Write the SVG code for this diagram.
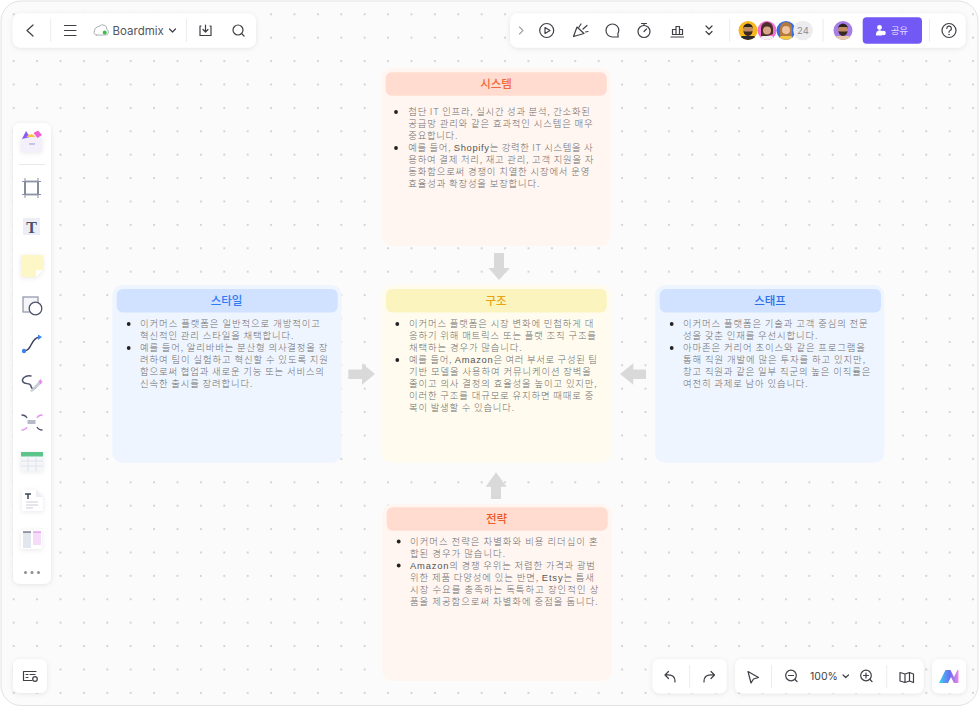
<svg xmlns="http://www.w3.org/2000/svg" width="979" height="707" viewBox="0 0 979 707">
<style>
text{font-family:"Inter","Noto Sans CJK KR","Noto Sans",sans-serif}
.b{font-size:9.4px;font-weight:300;fill:#6e6e6e;font-family:"Noto Sans CJK KR","Noto Sans",sans-serif}
.l{fill:#555;font-weight:400;font-family:"Liberation Sans","Noto Sans",sans-serif}
.t{font-size:11.5px;font-weight:500;text-anchor:middle;font-family:"Noto Sans CJK KR","Noto Sans",sans-serif}
.bar{fill:#fff;filter:url(#sh)}
.sep{stroke:#ececec;stroke-width:1}
.ic{fill:none;stroke:#3f3f46;stroke-width:1.2;stroke-linecap:round;stroke-linejoin:round}
.nv{fill:none;stroke:#4b5168;stroke-width:1.4;stroke-linecap:round;stroke-linejoin:round}
.arrow{fill:#d9d9d9}
</style>
<defs>
<pattern id="dots" x="12.700" y="13.300" width="23.400" height="23.400" patternUnits="userSpaceOnUse"><circle cx="1" cy="1" r="1" fill="#c9c9c9"/></pattern>
<filter id="sh" x="-20%" y="-30%" width="140%" height="170%"><feDropShadow dx="0" dy="1" stdDeviation="2.500" flood-color="#000" flood-opacity="0.09"/></filter>
<clipPath id="a1"><circle cx="748" cy="30.500" r="9.500"/></clipPath>
<clipPath id="a2"><circle cx="767" cy="30.500" r="9.500"/></clipPath>
<clipPath id="a3"><circle cx="786" cy="30.500" r="9.500"/></clipPath>
<clipPath id="a4"><circle cx="843" cy="30.500" r="9.500"/></clipPath>
<linearGradient id="logo" x1="0" x2="1"><stop offset="0" stop-color="#35d6ee"/><stop offset="0.550" stop-color="#6b6cf6"/><stop offset="1" stop-color="#f08ae0"/></linearGradient>
</defs>

<g id="canvas">
<rect width="979" height="707" fill="#fff"/>
<rect x="1" y="1" width="977" height="704.500" rx="20" fill="#fbfbfb" stroke="#e3e3e3"/>
<rect x="3" y="3" width="973" height="700" rx="18" fill="url(#dots)"/>
</g>

<g id="connectors">
<path class="arrow" d="M494 253H504V268H510L499 280L488.500 268H494Z"/>
<path class="arrow" d="M348.300 369.500H362V363.300L375 374L362 384.700V379H348.300Z"/>
<path class="arrow" d="M646 369.500H633.300V363.300L620 374L633.300 384.700V379H646Z"/>
<path class="arrow" d="M491 499V486.700H485.700L496 472.300L506.700 486.700H501V499Z"/>
</g>

<g id="node-system">
<rect x="381.700" y="68" width="229" height="178" rx="10" fill="#fff5f1"/>
<rect x="385.700" y="72.300" width="221" height="23.400" rx="6" fill="#ffdccf"/>
<text class="t" x="496" y="88" fill="#f0693c">시스템</text>
<circle cx="396" cy="112" r="1.900" fill="#222"/><circle cx="396" cy="148" r="1.900" fill="#222"/>
<text class="b" x="408.300" y="115" textLength="181.700">첨단 IT 인프라, 실시간 성과 분석, 간소화된</text>
<text class="b" x="408.300" y="127" textLength="184.400">공급망 관리와 같은 효과적인 시스템은 매우</text>
<text class="b" x="408.300" y="139" textLength="49">중요합니다.</text>
<text class="b" x="408.300" y="151" textLength="184.400">예를 들어, <tspan class="l">Shopify</tspan>는 강력한 IT 시스템을 사</text>
<text class="b" x="408.300" y="163" textLength="185">용하여 결제 처리, 재고 관리, 고객 지원을 자</text>
<text class="b" x="408.300" y="175" textLength="181">동화함으로써 경쟁이 치열한 시장에서 운영</text>
<text class="b" x="408.300" y="187" textLength="131">효율성과 확장성을 보장합니다.</text>
</g>

<g id="node-style">
<rect x="112.300" y="285" width="229.400" height="177.700" rx="10" fill="#eff5ff"/>
<rect x="116.700" y="289" width="221" height="23.400" rx="6" fill="#d0e2ff"/>
<text class="t" x="226.500" y="304.500" fill="#2f7cf6">스타일</text>
<circle cx="128.700" cy="324" r="1.900" fill="#222"/><circle cx="128.700" cy="348" r="1.900" fill="#222"/>
<text class="b" x="140" y="326.800" textLength="180">이커머스 플랫폼은 일반적으로 개방적이고</text>
<text class="b" x="140" y="338.800" textLength="153.300">혁신적인 관리 스타일을 채택합니다.</text>
<text class="b" x="140" y="351" textLength="187.300">예를 들어, 알리바바는 분산형 의사결정을 장</text>
<text class="b" x="140" y="363" textLength="188">려하여 팀이 실험하고 혁신할 수 있도록 지원</text>
<text class="b" x="140" y="375" textLength="184">함으로써 협업과 새로운 기능 또는 서비스의</text>
<text class="b" x="140" y="387" textLength="112.300">신속한 출시를 장려합니다.</text>
</g>

<g id="node-structure">
<rect x="381.700" y="285" width="229.300" height="177.700" rx="10" fill="#fffcef"/>
<rect x="386" y="289" width="220.700" height="23.400" rx="6" fill="#fbf4bf"/>
<text class="t" x="496" y="304.500" fill="#e8a30f">구조</text>
<circle cx="397.300" cy="324" r="1.900" fill="#222"/><circle cx="397.300" cy="360" r="1.900" fill="#222"/>
<text class="b" x="409" y="326.800" textLength="184.300">이커머스 플랫폼은 시장 변화에 민첩하게 대</text>
<text class="b" x="409" y="338.800" textLength="187">응하기 위해 매트릭스 또는 플랫 조직 구조를</text>
<text class="b" x="409" y="351" textLength="112.700">채택하는 경우가 많습니다.</text>
<text class="b" x="409" y="363" textLength="188">예를 들어, <tspan class="l">Amazon</tspan>은 여러 부서로 구성된 팀</text>
<text class="b" x="409" y="375" textLength="182">기반 모델을 사용하여 커뮤니케이션 장벽을</text>
<text class="b" x="409" y="387" textLength="187.700">줄이고 의사 결정의 효율성을 높이고 있지만,</text>
<text class="b" x="409" y="399" textLength="184.300">이러한 구조를 대규모로 유지하면 때때로 중</text>
<text class="b" x="409" y="411" textLength="105">복이 발생할 수 있습니다.</text>
</g>

<g id="node-staff">
<rect x="655" y="285" width="229.300" height="177.700" rx="10" fill="#eff5ff"/>
<rect x="659.700" y="289" width="221.300" height="23.400" rx="6" fill="#d0e2ff"/>
<text class="t" x="770" y="304.500" fill="#2f6fe8">스태프</text>
<circle cx="671.700" cy="324" r="1.900" fill="#222"/><circle cx="671.700" cy="348" r="1.900" fill="#222"/>
<text class="b" x="683" y="326.800" textLength="184.700">이커머스 플랫폼은 기술과 고객 중심의 전문</text>
<text class="b" x="683" y="338.800" textLength="134.300">성을 갖춘 인재를 우선시합니다.</text>
<text class="b" x="683" y="351" textLength="182">아마존은 커리어 초이스와 같은 프로그램을</text>
<text class="b" x="683" y="363" textLength="182">통해 직원 개발에 많은 투자를 하고 있지만,</text>
<text class="b" x="683" y="375" textLength="187.300">창고 직원과 같은 일부 직군의 높은 이직률은</text>
<text class="b" x="683" y="387" textLength="124.700">여전히 과제로 남아 있습니다.</text>
</g>

<g id="node-strategy">
<rect x="382.300" y="504.300" width="229.400" height="176.700" rx="10" fill="#fff5f1"/>
<rect x="386.700" y="507.300" width="221" height="23.400" rx="6" fill="#ffdccf"/>
<text class="t" x="496.500" y="523" fill="#ef5a2a">전략</text>
<circle cx="398.700" cy="541.500" r="1.900" fill="#222"/><circle cx="398.700" cy="565.500" r="1.900" fill="#222"/>
<text class="b" x="410" y="544.800" textLength="187.700">이커머스 전략은 차별화와 비용 리더십이 혼</text>
<text class="b" x="410" y="556.800" textLength="95">합된 경우가 많습니다.</text>
<text class="b" x="410" y="569" textLength="185"><tspan class="l">Amazon</tspan>의 경쟁 우위는 저렴한 가격과 광범</text>
<text class="b" x="410" y="581" textLength="184">위한 제품 다양성에 있는 반면, <tspan class="l">Etsy</tspan>는 틈새</text>
<text class="b" x="410" y="593" textLength="188.300">시장 수요를 충족하는 독특하고 장인적인 상</text>
<text class="b" x="410" y="605" textLength="187.700">품을 제공함으로써 차별화에 중점을 둡니다.</text>
</g>

<g id="toolbar-top-left">
<rect class="bar" x="12.700" y="13.300" width="243.300" height="34.400" rx="8"/>
<path class="sep" d="M50.700 19V42M186.500 19V42"/>
<path class="ic" d="M33 25L27 30.500L33 36"/>
<path class="ic" d="M64.500 25.500H76M64.500 30.500H76M64.500 35.500H76"/>
<path d="M96 35H106a3 3 0 0 0 1-5.500a4.500 4.500 0 0 0-8-3a4.500 4.500 0 0 0-4.500 4.500a2.500 2.500 0 0 0 2 4z" fill="none" stroke="#a9adb5" stroke-width="1"/>
<circle cx="104.700" cy="32.500" r="2" fill="#35c23f"/>
<text x="112.500" y="34.800" font-size="11.500" fill="#55555c">Boardmix</text>
<path class="ic" d="M169.500 29L172.500 32L175.500 29" stroke-width="1"/>
<path class="ic" d="M201 26H200V35.500H211V26H210M205.500 25V32M203 29.500L205.500 32L208 29.500"/>
<circle class="ic" cx="238" cy="30" r="5"/><path class="ic" d="M241.700 33.700L244 36"/>
</g>

<g id="toolbar-top-right">
<rect class="bar" x="510" y="13.300" width="455.700" height="34.400" rx="8"/>
<path class="sep" d="M729.700 19V42M823 19V42M929.500 19V42"/>
<path d="M519.500 27L523 30.500L519.500 34" fill="none" stroke="#9ca0a8" stroke-width="1.100" stroke-linecap="round"/>
<circle class="ic" cx="546.700" cy="30.500" r="7"/><path class="ic" d="M545 27.500L550 30.500L545 33.500Z"/>
<path class="ic" d="M573.500 36.500L577 27L584 33.500ZM579 27L581 24M583 29L587 25.500M585.500 32L588 31.500"/>
<path class="ic" d="M612.500 24a6.300 6.300 0 0 1 6.300 6.300c0 1.200-.4 2.400-1 3.400l.4 3.300h-5.700a6.500 6.500 0 0 1 0-13z"/>
<circle class="ic" cx="644" cy="31.500" r="6"/><path class="ic" d="M641.500 23.500H646.500M644 25.500V23.500M644 31.500L646.500 29"/>
<path class="ic" d="M671 37H683.500M672.500 34.500V29.500H676V34.500ZM676 34.500V26.500H679.500V34.500ZM679.500 34.500V29.500H682.500V34.500Z"/>
<path class="ic" d="M706 26L709 29L712 26M706 31.500L709 34.500L712 31.500"/>
<g clip-path="url(#a1)"><rect x="738" y="20" width="20" height="21" fill="#f8b71c"/><rect x="740" y="36" width="16" height="6" rx="3" fill="#2a2a30"/><circle cx="748" cy="30" r="4.800" fill="#c08a62"/><path d="M743 29a5 5.500 0 0 1 10 0l-1-2h-8z" fill="#2a2320"/><path d="M743.500 31a4.500 5 0 0 0 9 0l-1.500 .5h-6z" fill="#3a2a22"/></g>
<g clip-path="url(#a2)"><rect x="757" y="20" width="20" height="21" fill="#f36fd0"/><path d="M761 38V28a6 6 0 0 1 12 0v6z" fill="#4a302a"/><rect x="760" y="36" width="14" height="6" rx="3" fill="#f0f0f0"/><circle cx="767" cy="30.500" r="4" fill="#d9a585"/></g>
<g clip-path="url(#a3)"><rect x="776" y="20" width="20" height="21" fill="#2f6fe8"/><path d="M780 36V28a6 6 0 0 1 12 0v8z" fill="#b5793f"/><rect x="779" y="36" width="14" height="6" rx="3" fill="#f3c644"/><circle cx="786" cy="30" r="4" fill="#eec3a0"/></g>
<circle cx="803" cy="30.500" r="9.800" fill="#ececee"/>
<text x="803" y="34" font-size="9.500" fill="#8b8b90" text-anchor="middle">24</text>
<g clip-path="url(#a4)"><rect x="833" y="20" width="20" height="21" fill="#a77ee8"/><rect x="835" y="36" width="16" height="6" rx="3" fill="#e8c9a8"/><circle cx="843" cy="30" r="4.800" fill="#c08a62"/><path d="M838 29a5 5.500 0 0 1 10 0l-1-2h-8z" fill="#2a2320"/><path d="M838.500 31a4.500 5 0 0 0 9 0l-1.500 .5h-6z" fill="#3a2a22"/></g>
<rect x="862.700" y="17.300" width="59.300" height="26.400" rx="4" fill="#7258f5"/>
<circle cx="879.500" cy="27.500" r="2.400" fill="#fff"/><path d="M876 35.500a4 4 0 0 1 6-4.500v4.500z" fill="#fff"/><circle cx="883.500" cy="33" r="2.300" fill="#fff"/>
<text x="890.700" y="34.300" font-size="9.500" fill="#e4dfff" textLength="17.300" style="font-family:'Noto Sans CJK KR',sans-serif">공유</text>
<circle class="ic" cx="949" cy="30.500" r="7"/><path class="ic" d="M946.800 28.500a2.300 2.300 0 1 1 3.300 2c-.8.400-1.100.8-1.100 1.700"/><circle cx="949" cy="34.500" r=".8" fill="#3f3f46"/>
</g>

<g id="toolbar-left">
<rect class="bar" x="13" y="123" width="38" height="461" rx="7"/>
<path d="M19 164.500H45" stroke="#e8e8ea"/>
<rect x="21" y="137" width="21" height="15" rx="1.500" fill="#f3effb" filter="url(#sh)"/>
<path d="M22 139L26 131L30 137Z" fill="#8b5cf6"/><path d="M26.500 137a5 5 0 0 1 9 0z" fill="#f6c445"/><path d="M33.500 133L38 130.500L42 135L37.500 138Z" fill="#f35fd0"/>
<rect x="29" y="143" width="6" height="2" fill="#c9c5e8"/>
<rect class="nv" x="25" y="181.500" width="13" height="13"/>
<path d="M22 181.500H41M22 194.500H41M25 178V198M38 178V198" stroke="#8d93a6" fill="none"/>
<rect x="22.500" y="217.500" width="18" height="18" fill="#eceef5" stroke="#fff"/>
<text x="31.500" y="232.500" font-size="16" font-weight="700" fill="#4b5168" text-anchor="middle" style="font-family:'Liberation Serif',serif">T</text>
<path d="M21 255H43V270L36 277H21Z" fill="#fdf6c6" filter="url(#sh)"/><path d="M36 277V270H43Z" fill="#fff"/>
<rect x="23" y="297" width="15" height="15" fill="#f5f5fa" stroke="#8d93a6" stroke-width="1.200"/>
<circle cx="35.500" cy="308.500" r="6.300" fill="#fff" stroke="#4b5168" stroke-width="1.300"/>
<path d="M24 351C32 351 30 339 39 337" fill="none" stroke="#3e4459" stroke-width="1.500"/>
<circle cx="24" cy="351" r="2.200" fill="#3f83f0"/><path d="M38 334.500L42 337L38 340Z" fill="#3f83f0"/>
<path class="nv" d="M31 376C25 375 21 379 23 382C25 385 30 382 31 386C31 389 35 390 37 386"/>
<path d="M30 391L40 380L42 383L32 392Z" fill="#c9cdd8"/><path d="M38.500 381.500L40.500 379L42.500 382L40.500 384Z" fill="#e58cf0"/>
<rect x="27.500" y="420" width="8" height="4" fill="#b6bbc8"/>
<path d="M42.500 415C39 415 38 416 37 418M21.500 430C25 430 26 429 27 427" fill="none" stroke="#e58cf0" stroke-width="1.300"/>
<path d="M21.500 415C25 415 26 416 27 418M42.500 430C39 430 38 429 37 427" fill="none" stroke="#4b5168" stroke-width="1.300"/>
<rect x="21" y="452" width="22" height="19" rx="1" fill="#f5f6fa" filter="url(#sh)"/>
<rect x="21" y="452" width="22" height="4.500" fill="#5cc58c"/>
<path d="M21 461H43M21 466H43M28 456.500V471M36 456.500V471" stroke="#dfe2ea"/>
<path d="M22 490H36L43 497V511H22Z" fill="#fff" filter="url(#sh)"/>
<path d="M36 490V497H43Z" fill="#eceef3"/>
<path d="M25 494H31M28 494V499" stroke="#3e4459" stroke-width="1.500" fill="none"/>
<path d="M26 502H38M26 505H38M26 508H33" stroke="#c9cdd8"/>
<rect x="21" y="530" width="21" height="19" fill="#fff" filter="url(#sh)"/>
<rect x="23" y="532" width="8" height="16" fill="#e2e6ee"/><rect x="33" y="532" width="8" height="13" fill="#f6dcf8"/>
<path d="M23 532H31" stroke="#3e4459"/><path d="M33 532H41" stroke="#d77fe8"/>
<circle cx="25.500" cy="572.500" r="1.500" fill="#8d8d96"/><circle cx="32" cy="572.500" r="1.500" fill="#8d8d96"/><circle cx="38.500" cy="572.500" r="1.500" fill="#8d8d96"/>
</g>

<g id="toolbar-bottom-left">
<rect class="bar" x="13" y="659" width="34" height="34" rx="7"/>
<path class="ic" d="M36 671.500H23.500V680.500H32"/><path class="ic" d="M26 674.500H28M26 677.500H28M30 674.500H35"/>
<circle class="ic" cx="35" cy="679" r="2.300"/>
</g>

<g id="toolbar-bottom-undo">
<rect class="bar" x="652.700" y="659" width="74" height="34.300" rx="7"/>
<path class="sep" d="M689.700 665V688"/>
<path class="ic" d="M675 682C675 676 672 674.500 665.500 675M668.500 671.500L665 675L668.500 678.500"/>
<path class="ic" d="M704 682C704 676 707 674.500 714 675M711 671.500L714.500 675L711 678.500"/>
</g>

<g id="toolbar-bottom-zoom">
<rect class="bar" x="735" y="659" width="188.700" height="34.300" rx="7"/>
<path class="sep" d="M771.500 665V688M886.700 665V688"/>
<path class="ic" d="M748 671.500L758.500 677.500L753.500 679L751 683Z"/>
<circle class="ic" cx="791" cy="675.500" r="5.300"/><path class="ic" d="M788.500 675.500H793.500M795 679.500L797 681.500"/>
<text x="810" y="680" font-size="10.500" fill="#3f3f46">100%</text>
<path class="ic" d="M843 675L845.700 677.500L848.500 675" stroke-width="1"/>
<circle class="ic" cx="866" cy="675.500" r="5.300"/><path class="ic" d="M863.500 675.500H868.500M866 673V678M870 679.500L872 681.500"/>
<path class="ic" d="M900 672.500L905 674L909.500 672.500L913.500 674V682.500L909.500 681L905 682.500L900 681ZM905 674V682.500M909.500 672.500V681"/>
</g>

<g id="toolbar-bottom-logo">
<rect class="bar" x="932" y="659" width="34" height="34.300" rx="7"/>
<path d="M939 683L945.500 670H950.500L954 677L957.500 670H958.500V683H954L951 677L948 683Z" fill="url(#logo)"/>
</g>
</svg>
